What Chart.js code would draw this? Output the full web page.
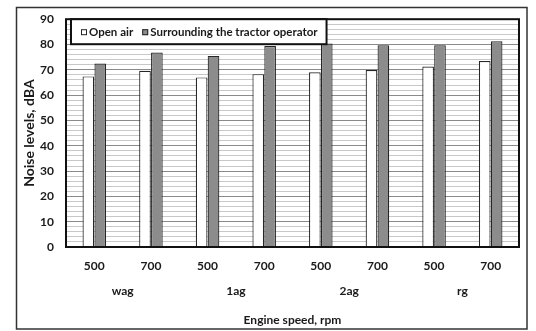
<!DOCTYPE html>
<html>
<head>
<meta charset="utf-8">
<script src="https://cdn.jsdelivr.net/npm/chart.js@4/dist/chart.umd.min.js"></script>
<style>
  html, body { margin: 0; padding: 0; background: #fff; }
  #wrap { width: 536px; height: 331px; position: relative; }
</style>
</head>
<body>
<div id="wrap"><canvas id="c"></canvas></div>
<script>
// Engine speed (rpm) for each bar pair, and the gear group each pair belongs to
const speeds = ['500', '700', '500', '700', '500', '700', '500', '700'];
const gears = ['wag', '1ag', '2ag', 'rg'];

// Noise levels, dBA
const openAir = [67.4, 69.6, 67.0, 68.3, 69.0, 69.9, 71.3, 73.5];
const operatorZone = [72.5, 76.8, 75.5, 79.4, 80.4, 79.7, 79.7, 81.3];

const seriesNames = ['Open air', 'Surrounding the tractor operator'];

// Noise axis range and grid step
const yMin = 0;
const yMax = 90;
const yStep = 2;
const yLabelEvery = 10;

const ink = '#1a1a1a';
const edge = '#262626';

Chart.defaults.font.family = 'Lato, "Open Sans", sans-serif';
Chart.defaults.font.weight = 'bold';
Chart.defaults.color = ink;

// White page, outer frame, plot frame and in-plot legend box
const framePlugin = {
  id: 'frame',
  beforeDraw(chart) {
    const ctx = chart.ctx;
    ctx.save();
    ctx.fillStyle = '#fff';
    ctx.fillRect(0, 0, chart.width, chart.height);
    ctx.restore();
  },
  afterDatasetsDraw(chart) {
    const ctx = chart.ctx;
    const a = chart.chartArea;
    ctx.save();
    // plot outline
    ctx.strokeStyle = '#111';
    ctx.lineWidth = 2;
    ctx.strokeRect(a.left, a.top, a.right - a.left, a.bottom - a.top);

    // legend box
    ctx.font = 'bold 11.5px Lato, "Open Sans", sans-serif';
    const sw = 6, gapText = 2, gapItem = 9, padL = 10, padR = 9;
    const ds = chart.data.datasets;
    let w = padL;
    ds.forEach((d, i) => {
      w += sw + gapText + ctx.measureText(d.label).width;
      if (i < ds.length - 1) w += gapItem;
    });
    w += padR;
    const bx = a.left + 5, by = a.top, bh = 25;
    ctx.fillStyle = '#fff';
    ctx.fillRect(bx, by, w, bh);
    ctx.strokeStyle = '#111';
    ctx.lineWidth = 2;
    ctx.strokeRect(bx, by, w, bh);
    let x = bx + padL;
    const cy = by + bh / 2 + 0.5;
    ds.forEach((d) => {
      ctx.fillStyle = d.backgroundColor;
      ctx.fillRect(x, cy - sw / 2, sw, sw);
      ctx.strokeStyle = edge;
      ctx.lineWidth = 1;
      ctx.strokeRect(x + 0.5, cy - sw / 2 + 0.5, sw - 1, sw - 1);
      x += sw + gapText;
      ctx.fillStyle = ink;
      ctx.textBaseline = 'middle';
      ctx.textAlign = 'left';
      ctx.fillText(d.label, x, cy);
      x += ctx.measureText(d.label).width + gapItem;
    });
    ctx.restore();
  },
  afterDraw(chart) {
    const ctx = chart.ctx;
    ctx.save();
    ctx.strokeStyle = '#333';
    ctx.lineWidth = 1.5;
    ctx.strokeRect(16.5, 7.5, 510.5, 321.5);
    ctx.restore();
  }
};

new Chart(document.getElementById('c'), {
  type: 'bar',
  data: {
    labels: speeds,
    datasets: [
      {
        label: seriesNames[0],
        data: openAir,
        backgroundColor: '#ffffff',
        borderColor: edge,
        borderWidth: 1.2,
        borderSkipped: 'bottom'
      },
      {
        label: seriesNames[1],
        data: operatorZone,
        backgroundColor: '#8c8c8c',
        borderColor: edge,
        borderWidth: 1.2,
        borderSkipped: 'bottom'
      }
    ]
  },
  options: {
    responsive: true,
    maintainAspectRatio: false,
    animation: false,
    devicePixelRatio: 1,
    categoryPercentage: 0.42,
    barPercentage: 0.98,
    layout: { padding: { left: 21, right: 17, top: 14, bottom: 4 } },
    plugins: {
      legend: { display: false },
      tooltip: { enabled: false }
    },
    scales: {
      x: {
        type: 'category',
        position: 'bottom',
        weight: 0,
        grid: { display: false, drawTicks: false },
        border: { display: false },
        ticks: { font: { size: 12, weight: 'bold' }, padding: 12, color: ink, maxRotation: 0 },
        afterFit: (s) => { s.height = 26; }
      },
      gear: {
        type: 'category',
        labels: gears,
        position: 'bottom',
        weight: 1,
        offset: true,
        grid: { display: false, drawTicks: false },
        border: { display: false },
        ticks: { font: { size: 12, weight: 'bold' }, padding: 11, color: ink, maxRotation: 0 },
        title: {
          display: true,
          text: 'Engine speed, rpm',
          font: { size: 12, weight: 'bold' },
          color: ink,
          padding: { top: 13, bottom: 0 }
        },
        afterFit: (s) => { s.height = 54; }
      },
      y: {
        min: yMin,
        max: yMax,
        grid: {
          drawTicks: false,
          color: (c) => (c.tick && c.tick.value % yLabelEvery === 0) ? '#8a8a8a' : '#c8c8c8',
          lineWidth: 1
        },
        border: { display: false },
        ticks: {
          stepSize: yStep,
          autoSkip: false,
          padding: 12,
          font: { size: 12, weight: 'bold' },
          color: ink,
          callback: (v) => (v % yLabelEvery === 0 ? String(v) : '')
        },
        title: {
          display: true,
          text: 'Noise levels, dBA',
          font: { size: 14, weight: 'bold' },
          color: ink,
          padding: { top: 0, bottom: 3 }
        },
        afterFit: (s) => { s.width = 45; }
      }
    }
  },
  plugins: [framePlugin]
});
</script>
</body>
</html>
